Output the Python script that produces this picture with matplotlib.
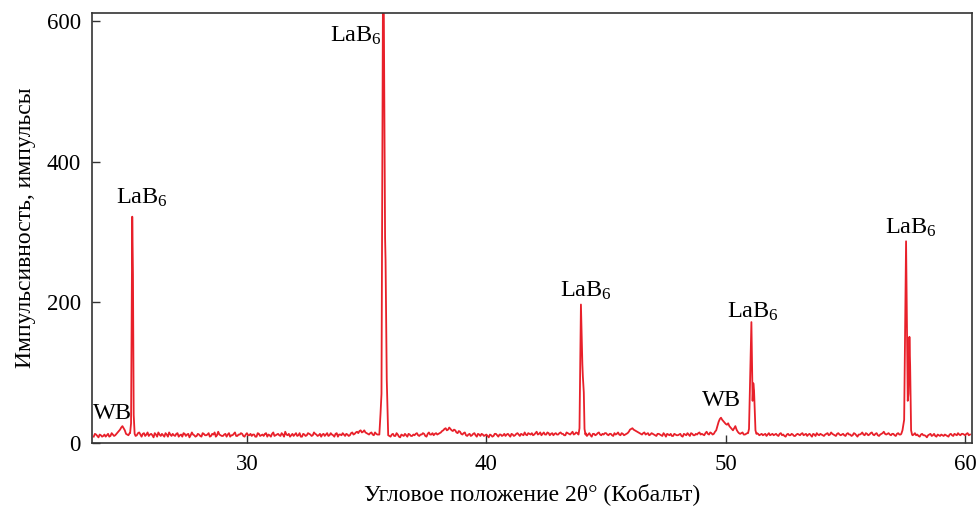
import matplotlib
matplotlib.use("Agg")
import matplotlib.pyplot as plt
import numpy as np

plt.rcParams['font.family'] = ['Liberation Serif', 'DejaVu Serif']
plt.rcParams['mathtext.fontset'] = 'custom'
plt.rcParams['mathtext.rm'] = 'Liberation Serif'
plt.rcParams['mathtext.default'] = 'regular'

# baseline counts, every 0.1 deg from 23.6
base_start = 23.6
base_counts = [
    9, 12, 8, 11,
    10, 9, 13, 10, 12, 11, 15, 19, 24, 18,
    12, 14, 12, 13, 11, 15, 9, 14, 12, 10,
    13, 8, 12, 15, 10, 11, 14, 9, 12, 13,
    10, 14, 11, 9, 13, 12, 8, 15, 11, 10,
    12, 9, 13, 11, 14, 10, 12, 9, 16, 11,
    10, 13, 12, 9, 11, 15, 10, 12, 13, 9,
    14, 11, 10, 12, 9, 13, 11, 10, 14, 12,
    9, 15, 11, 13, 10, 12, 16, 11, 9, 13,
    12, 10, 14, 9, 12, 11, 13, 10, 15, 12,
    11, 9, 13, 12, 10, 14, 11, 13, 9, 12,
    14, 10, 12, 11, 15, 13, 16, 17, 15, 18,
    14, 12, 15, 11, 13, 12, 14, 13, 12, 11,
    9, 13, 10, 12, 8, 11, 13, 9, 12, 10,
    11, 14, 10, 12, 13, 9, 15, 12, 11, 14,
    13, 15, 18, 21, 19, 20, 17, 18, 14, 16,
    12, 15, 10, 13, 11, 14, 9, 12, 13, 10,
    12, 8, 11, 10, 13, 9, 12, 11, 10, 13,
    9, 12, 11, 14, 10, 12, 15, 11, 13, 14,
    12, 16, 13, 11, 15, 12, 14, 13, 11, 14,
    12, 15, 13, 11, 14, 12, 16, 13, 14, 15,
    13, 12, 10, 14, 9, 13, 12, 15, 11, 12,
    14, 11, 13, 10, 12, 15, 11, 13, 12, 14,
    19, 21, 18, 16, 14, 12, 15, 13, 11, 14,
    12, 10, 13, 11, 14, 9, 12, 13, 10, 12,
    11, 13, 9, 12, 14, 10, 13, 11, 12, 15,
    13, 11, 16, 12, 14, 13, 18, 30, 36, 31,
    27, 28, 22, 18, 24, 16, 13, 15, 12, 14,
    13, 12, 15, 14, 11, 13, 12, 10, 14, 12,
    11, 13, 10, 14, 12, 9, 13, 11, 12, 10,
    13, 11, 14, 12, 10, 13, 9, 12, 14, 11,
    12, 10, 13, 11, 15, 12, 10, 14, 11, 13,
    10, 14, 12, 11, 13, 9, 12, 15, 11, 13,
    12, 15, 11, 14, 10, 13, 16, 12, 14, 11,
    13, 10, 14, 12, 11, 15, 13, 12, 11, 14,
    12, 9, 13, 11, 8, 12, 10, 13, 9, 11,
    12, 10, 11, 9, 13, 10, 12, 14, 11, 13,
    11, 14, 12,
]
# in-between readings, every 0.1 deg from 23.65
half_start = 23.65
half_counts = [
    13, 10, 12, 9,
    12, 11, 9, 14, 10, 13, 17, 22, 21, 13,
    11, 13, 15, 10, 14, 12, 13, 10, 15, 12,
    11, 14, 9, 12, 13, 9, 12, 15, 10, 11,
    13, 9, 12, 14, 10, 13, 11, 12, 9, 13,
    10, 14, 11, 12, 9, 13, 15, 11, 12, 10,
    12, 9, 14, 11, 13, 10, 12, 14, 10, 12,
    11, 13, 12, 9, 14, 10, 12, 13, 9, 11,
    13, 10, 12, 11, 14, 9, 12, 13, 11, 10,
    14, 11, 9, 13, 10, 14, 12, 11, 13, 10,
    13, 12, 10, 14, 11, 12, 9, 14, 12, 11,
    12, 13, 10, 14, 12, 15, 14, 18, 16, 15,
    13, 14, 12, 15, 12, 13, 15, 12, 13, 10,
    12, 10, 14, 9, 12, 10, 11, 13, 10, 12,
    13, 11, 12, 14, 10, 13, 12, 14, 13, 12,
    14, 17, 20, 18, 22, 18, 19, 15, 17, 13,
    14, 11, 12, 10, 13, 11, 13, 10, 12, 11,
    10, 12, 9, 13, 11, 12, 10, 13, 12, 11,
    13, 10, 13, 12, 13, 11, 12, 14, 12, 11,
    14, 12, 15, 13, 12, 15, 11, 14, 13, 12,
    14, 13, 11, 15, 13, 14, 12, 15, 12, 13,
    12, 14, 12, 11, 13, 11, 14, 12, 13, 14,
    12, 13, 11, 14, 13, 12, 14, 11, 13, 16,
    20, 19, 17, 15, 13, 14, 12, 14, 12, 13,
    11, 13, 12, 10, 12, 13, 11, 10, 13, 11,
    12, 10, 13, 11, 12, 14, 11, 13, 14, 12,
    12, 14, 13, 15, 12, 16, 24, 34, 33, 29,
    26, 24, 20, 21, 19, 14, 14, 12, 13, 12,
    11, 14, 12, 13, 12, 11, 13, 12, 11, 13,
    12, 11, 13, 11, 10, 12, 11, 13, 10, 12,
    12, 13, 11, 13, 12, 11, 13, 10, 12, 13,
    11, 12, 14, 12, 13, 11, 13, 12, 12, 11,
    13, 12, 10, 14, 11, 12, 13, 12, 14, 11,
    14, 12, 13, 11, 12, 14, 13, 13, 12, 13,
    11, 13, 12, 10, 13, 12, 11, 13, 12, 11,
    10, 12, 11, 10, 11, 13, 11, 10, 12, 10,
    11, 12, 10, 12, 11, 13, 11, 12, 13, 12,
    13, 11,
]

# LaB6 reflections (K-alpha doublets)
peak1_x = [25.12, 25.16, 25.21, 25.24, 25.27, 25.31]
peak1_y = [14, 28, 322, 240, 40, 13]
peak2_x = [35.53, 35.58, 35.62, 35.69, 35.72, 35.77, 35.79, 35.84, 35.90]
peak2_y = [12, 42, 70, 720, 600, 292, 260, 90, 12]
peak3_x = [43.85, 43.89, 43.95, 44.01, 44.03, 44.07, 44.10, 44.14]
peak3_y = [12, 21, 197, 112, 95, 72, 20, 12]
peak5_x = [50.93, 50.97, 51.07, 51.12, 51.15, 51.18, 51.24, 51.28]
peak5_y = [14, 20, 172, 60, 85, 75, 18, 13]
peak6_x = [57.33, 57.38, 57.45, 57.53, 57.60, 57.63, 57.67, 57.70, 57.74, 57.78]
peak6_y = [13, 18, 33, 287, 60, 70, 151, 110, 18, 12]

labels = ['WB', 'LaB$_6$', 'LaB$_6$', 'LaB$_6$', 'WB', 'LaB$_6$', 'LaB$_6$']
label_x = [24.37, 25.62, 34.55, 44.15, 49.83, 51.13, 57.72]
label_y = [42, 349, 579, 216, 60, 187, 306]

# merge baseline with peaks
bx = np.concatenate([base_start + 0.1 * np.arange(len(base_counts)),
                     half_start + 0.1 * np.arange(len(half_counts))])
by = np.array(base_counts + half_counts, dtype=float)
peaks = [(peak1_x, peak1_y), (peak2_x, peak2_y), (peak3_x, peak3_y),
         (peak5_x, peak5_y), (peak6_x, peak6_y)]
keep = np.ones(len(bx), dtype=bool)
for px, py in peaks:
    keep &= ~((bx >= min(px)) & (bx <= max(px)))
x = np.concatenate([bx[keep]] + [np.array(p[0]) for p in peaks])
y = np.concatenate([by[keep]] + [np.array(p[1]) for p in peaks])
order = np.argsort(x)
x, y = x[order], y[order]

fig = plt.figure(figsize=(9.79, 5.09), dpi=100)
ax = fig.add_axes([0.094, 0.1297, 0.899, 0.845])
ax.plot(x, y, color='#e8202a', lw=1.3)

for t, lx, ly in zip(labels, label_x, label_y):
    ax.text(lx, ly, t, ha='center', va='center', fontsize=17.5)

ax.set_xlim(23.53, 60.29)
ax.set_ylim(0, 612)
ax.set_xticks([30, 40, 50, 60])
ax.set_yticks([0, 200, 400, 600])
ax.tick_params(direction='in', length=6, width=1, labelsize=16.5, pad=8, color='#333333')
for s in ax.spines.values():
    s.set_color('#333333')
    s.set_linewidth(1.2)

ax.set_xlabel('Угловое положение 2θ° (Кобальт)', fontsize=17, labelpad=6)
ax.set_ylabel('Импульсивность, импульсы', fontsize=17, labelpad=8)

fig.savefig('out.png', dpi=100)
